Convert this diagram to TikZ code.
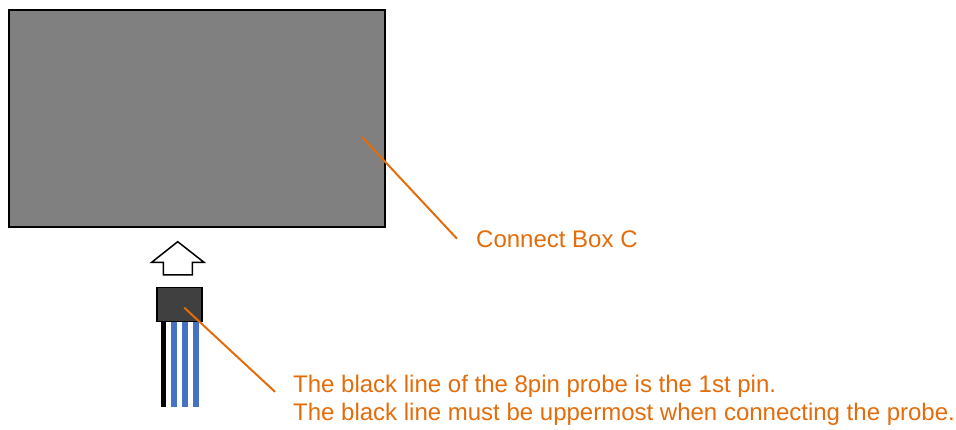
\documentclass[tikz,border=0pt]{standalone}
\usepackage{fontspec}
\setmainfont{Liberation Sans}
\usetikzlibrary{positioning}
\definecolor{calloutorange}{RGB}{228,108,10}
\definecolor{wireblue}{RGB}{68,114,196}
\definecolor{boxgray}{RGB}{128,128,128}
\definecolor{probegray}{RGB}{64,64,64}
\tikzset{
  callout/.style={draw=calloutorange, line width=2pt},
  calltext/.style={text=calloutorange, font=\fontsize{24}{28}\selectfont, inner sep=0pt, anchor=base west},
  wire/.style={line width=5.5pt},
}

\begin{document}
\begin{tikzpicture}[x=1pt,y=-1pt]
        \useasboundingbox (0,0) rectangle (956,430);
        %connect box
        \node[draw, line width=2pt, fill=boxgray, minimum width=376pt, minimum height=217pt, inner sep=0pt, anchor=north west] (cbox) at (8,9) {};
        %insert arrow
        \draw[line width=1.5pt, fill=white] (177.7,241.7) -- (204,262.3) -- (192.3,262.3) -- (192.3,275) -- (163.3,275) -- (163.3,262.3) -- (151.7,262.3) -- cycle;
        %probe wires
        \draw[wire] (163.3,320) -- (163.3,407);
        \foreach \x in {173.8,185,196.2}
          \draw[wire, wireblue] (\x,320) -- (\x,407);
        %probe head
        \node[draw, line width=1.5pt, fill=probegray, minimum width=45pt, minimum height=34pt, inner sep=0pt, anchor=north west] (probe) at (156,287) {};
        %labels
        \node[calltext] (boxlabel) at (476,248) {Connect Box C};
        \node[calltext] (probelabel) at (293,392) {The black line of the 8pin probe is the 1st pin.};
        \node[calltext] (probelabelb) at (293,420) {The black line must be uppermost when connecting the probe.};
        %leaders
        \coordinate (boxpt) at (362,137);
        \coordinate (probept) at (184.3,307.7);
        \draw[callout] (boxpt) -- ([xshift=-19pt,yshift=1pt]boxlabel.west);
        \draw[callout] (probept) -- ([xshift=-18pt,yshift=-6pt]probelabel.west);
\end{tikzpicture}
\end{document}
